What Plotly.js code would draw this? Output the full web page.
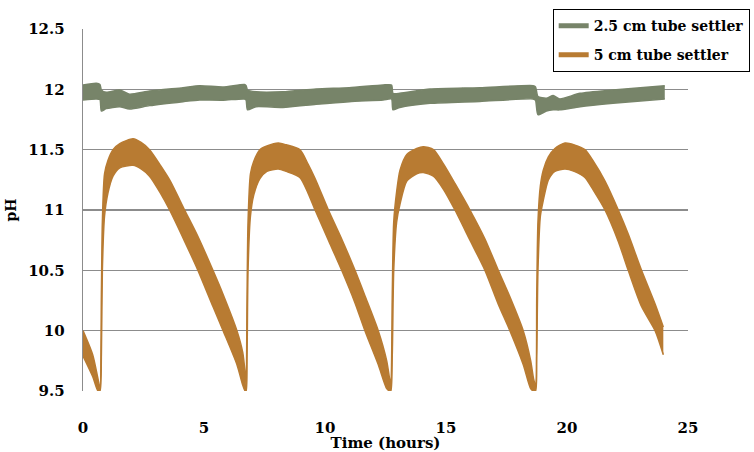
<!DOCTYPE html>
<html>
<head>
<meta charset="utf-8">
<script src="https://cdn.plot.ly/plotly-3.0.1.min.js"></script>
<style>
  html, body { margin: 0; padding: 0; background: #fff; }
  #chart { width: 754px; height: 452px; }
</style>
</head>
<body>
<div id="chart"></div>
<script>
// Series names (legend)
const seriesNames = ['2.5 cm tube settler', '5 cm tube settler'];

// 2.5 cm tube settler: time (h), upper and lower edge of the noisy pH band
const greenTime = [0, 0.55, 0.7, 0.76, 0.96, 1.51, 1.92, 2.75, 4.13, 4.82, 5.79, 6.67, 6.74, 6.8, 7.15, 8.26, 9.63, 11.0, 12.4, 12.75, 12.81, 13.09, 14.34, 16.4, 18.6, 18.7, 18.8, 19.15, 19.43, 19.7, 20.54, 21.9, 24.04];
const greenHigh = [12.036, 12.05, 12.04, 11.995, 11.975, 11.995, 11.96, 11.986, 12.014, 12.03, 12.02, 12.04, 12.03, 11.995, 11.98, 11.98, 12.003, 12.014, 12.036, 12.036, 11.967, 11.967, 12.003, 12.014, 12.03, 12.02, 11.94, 11.926, 11.948, 11.92, 11.967, 11.995, 12.03];
const greenLow = [11.912, 11.92, 11.915, 11.82, 11.84, 11.856, 11.837, 11.865, 11.898, 11.912, 11.91, 11.92, 11.91, 11.83, 11.856, 11.85, 11.876, 11.898, 11.912, 11.92, 11.83, 11.85, 11.884, 11.9, 11.92, 11.91, 11.79, 11.82, 11.83, 11.83, 11.856, 11.884, 11.92];

// 5 cm tube settler: time (h), upper and lower edge of the pH band
const orangeTime = [
    0, 0.4, 0.62, 0.7, 0.76, 0.8, 0.89, 1.03, 1.24, 1.52, 2.07, 2.4, 2.75, 3.2, 3.58, 4.2, 4.75, 5.37, 5.79, 6.36, 6.6, 6.7,
    6.74, 6.78, 6.82, 6.92, 7.05, 7.31, 7.6, 8.07, 8.4, 8.96, 9.3, 9.59, 10.14, 10.69, 11.24, 11.65, 12.2, 12.55, 12.67,
    12.72, 12.78, 12.84, 12.96, 13.1, 13.38, 13.79, 14.06, 14.48, 14.9, 15.37, 15.99, 16.61, 17.16, 17.64, 18.19, 18.5, 18.62,
    18.7, 18.75, 18.8, 18.9, 19.02, 19.23, 19.5, 19.92, 20.3, 20.74, 21.1, 21.57, 22.12, 22.53, 23.08, 23.64, 23.98
];
const orangeHigh = [
    10.0, 9.8, 9.6, 9.53, 10.3, 10.9, 11.3, 11.41, 11.5, 11.55, 11.59, 11.56, 11.5, 11.37, 11.25, 11.0, 10.78, 10.5, 10.3, 10.0, 9.82, 9.65,
    9.55, 10.3, 10.9, 11.3, 11.4, 11.5, 11.53, 11.555, 11.54, 11.5, 11.38, 11.26, 11.0, 10.76, 10.5, 10.29, 10.0, 9.75, 9.6,
    9.55, 10.3, 10.9, 11.15, 11.33, 11.46, 11.51, 11.525, 11.5, 11.38, 11.22, 11.0, 10.76, 10.5, 10.28, 10.0, 9.75, 9.6,
    9.55, 10.3, 10.9, 11.2, 11.33, 11.44, 11.51, 11.555, 11.54, 11.5, 11.4, 11.24, 11.0, 10.8, 10.5, 10.22, 10.03
];
const orangeLow = [
    9.79, 9.62, 9.5, 9.5, 9.8, 10.5, 10.95, 11.14, 11.28, 11.35, 11.37, 11.34, 11.28, 11.14, 11.0, 10.74, 10.5, 10.2, 10.0, 9.72, 9.55, 9.5,
    9.5, 9.8, 10.5, 10.95, 11.12, 11.26, 11.32, 11.34, 11.32, 11.27, 11.14, 11.0, 10.75, 10.5, 10.23, 10.0, 9.72, 9.52, 9.5,
    9.5, 9.8, 10.5, 10.9, 11.05, 11.24, 11.3, 11.31, 11.28, 11.17, 11.0, 10.75, 10.5, 10.22, 10.0, 9.72, 9.52, 9.5,
    9.5, 9.8, 10.5, 10.95, 11.08, 11.25, 11.32, 11.34, 11.32, 11.27, 11.16, 11.0, 10.74, 10.5, 10.2, 10.0, 9.8
];

// Axis ticks
const xTicks = [0, 5, 10, 15, 20, 25];
const yTicks = [9.5, 10, 10.5, 11, 11.5, 12, 12.5];
const yTickText = ['9.5', '10', '10.5', '11', '11.5', '12', '12.5'];

const GREEN = '#778469';
const ORANGE = '#b87b32';
const SERIF = 'DejaVu Serif';

const bold = s => '<b>' + s + '</b>';

function band(t, hi, lo, color, group, smooth) {
    const line = { color: color, width: 1.5, shape: 'spline', smoothing: smooth };
    return [
        {
            x: t, y: hi, type: 'scatter', mode: 'lines', line: line,
            showlegend: false, legendgroup: group, hoverinfo: 'skip'
        },
        {
            x: t, y: lo, type: 'scatter', mode: 'lines', line: line,
            fill: 'tonexty', fillcolor: color,
            showlegend: false, legendgroup: group, hoverinfo: 'skip'
        }
    ];
}

// legend-only entries (no data)
function legendEntry(name, color, group) {
    return {
        x: [null], y: [null], type: 'scatter', mode: 'lines',
        name: name, legendgroup: group,
        line: { color: color, width: 5 }
    };
}

const traces = [
    ...band(greenTime, greenHigh, greenLow, GREEN, 'g', 0.6),
    ...band(orangeTime, orangeHigh, orangeLow, ORANGE, 'o', 0.7),
    legendEntry(seriesNames[0], GREEN, 'g'),
    legendEntry(seriesNames[1], ORANGE, 'o')
];

const layout = {
    width: 754,
    height: 452,
    paper_bgcolor: '#fff',
    plot_bgcolor: '#fff',
    margin: { l: 83, r: 66, t: 29, b: 61, autoexpand: false },
    font: { family: SERIF, color: '#000', size: 15, weight: 'bold' },
    showlegend: true,
    legend: {
        xref: 'container', yref: 'container',
        x: 0.733, y: 0.98, xanchor: 'left', yanchor: 'top',
        bgcolor: '#fff', bordercolor: '#000', borderwidth: 1,
        font: { family: SERIF, size: 14, color: '#000', weight: 'bold' },
        traceorder: 'grouped', tracegroupgap: 8
    },
    xaxis: {
        range: [0, 25],
        tickvals: xTicks,
        ticktext: xTicks.map(bold),
        ticks: '',
        ticklabelstandoff: 26,
        showgrid: false,
        zeroline: false,
        showline: false,
        automargin: false,
        tickfont: { family: SERIF, size: 15 },
        title: { text: 'Time (hours)', font: { family: SERIF, size: 15, weight: 'bold' }, standoff: 0 }
    },
    yaxis: {
        range: [9.5, 12.5],
        tickvals: yTicks,
        ticktext: yTickText.map(bold),
        ticks: '',
        ticklabelstandoff: 14,
        showgrid: true,
        gridcolor: '#8c8c8c',
        gridwidth: 1.3,
        zeroline: false,
        showline: true,
        linecolor: '#8c8c8c',
        linewidth: 1.3,
        automargin: false,
        tickfont: { family: SERIF, size: 15 },
        title: { text: 'pH', font: { family: SERIF, size: 14, weight: 'bold' }, standoff: 8 }
    }
};

Plotly.newPlot('chart', traces, layout, { displayModeBar: false, staticPlot: true });
</script>
</body>
</html>
